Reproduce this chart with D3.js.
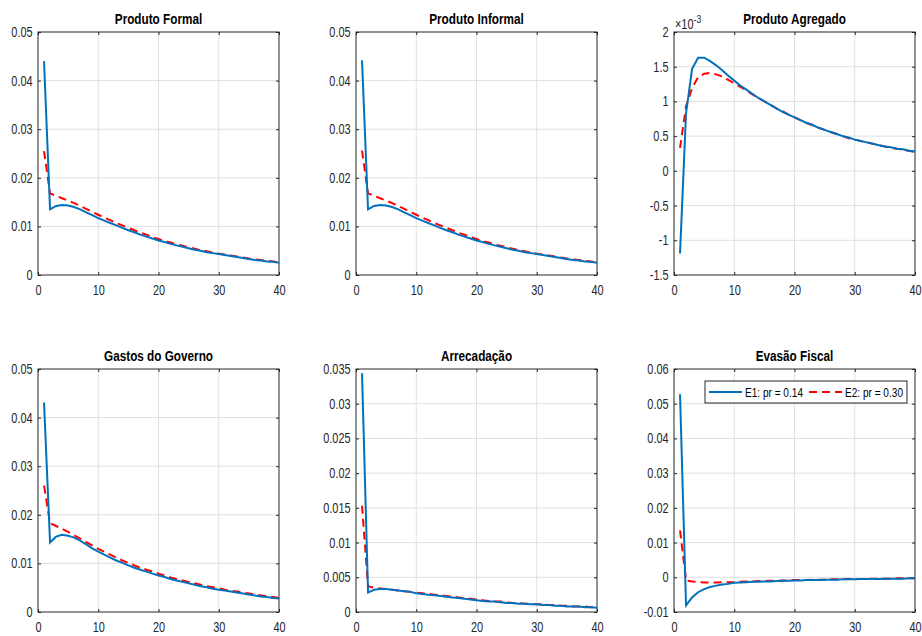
<!DOCTYPE html>
<html>
<head>
<meta charset="utf-8">
<script src="https://cdn.jsdelivr.net/npm/d3@7"></script>
<style>
  body { margin: 0; background: #fff; }
  svg { display: block; font-family: "Liberation Sans", Arial, sans-serif; }
  .tick text { fill: #262626; font-size: 14px; }
  .title { font-size: 14px; font-weight: bold; fill: #000; }
</style>
</head>
<body>
<div id="chart"></div>
<script>
var svgWidth = 922;
var svgHeight = 636;
// the reference font is narrower than Liberation Sans
var squeeze = 0.84;
var tickSqueeze = 0.78;

// periods 1..40
var periods = d3.range(1, 41);

// series (E1: pr = 0.14, E2: pr = 0.30)
var formalE1 = [0.0440,0.0135,0.0142,0.0144,0.0143,0.0140,0.0135,0.0129,0.0123,0.0117,0.0112,0.0107,0.0102,0.0097,0.0092,0.0088,0.0083,0.0079,0.0075,0.0071,0.0068,0.0064,0.0061,0.0058,0.0055,0.0052,0.0050,0.0047,0.0045,0.0043,0.0041,0.0039,0.0037,0.0035,0.0033,0.0031,0.0030,0.0028,0.0027,0.0025];
var formalE2 = [0.0255,0.0168,0.0163,0.0158,0.0153,0.0148,0.0142,0.0136,0.0130,0.0124,0.0118,0.0113,0.0107,0.0102,0.0097,0.0092,0.0087,0.0083,0.0078,0.0074,0.0070,0.0067,0.0063,0.0060,0.0057,0.0054,0.0051,0.0049,0.0046,0.0044,0.0042,0.0040,0.0038,0.0036,0.0034,0.0032,0.0031,0.0029,0.0028,0.0026];

var informalE1 = [0.0442,0.0135,0.0142,0.0144,0.0143,0.0140,0.0135,0.0129,0.0123,0.0117,0.0112,0.0107,0.0102,0.0097,0.0092,0.0088,0.0083,0.0079,0.0075,0.0071,0.0068,0.0064,0.0061,0.0058,0.0055,0.0052,0.0050,0.0047,0.0045,0.0043,0.0041,0.0039,0.0037,0.0035,0.0033,0.0031,0.0030,0.0028,0.0027,0.0025];
var informalE2 = [0.0256,0.0168,0.0163,0.0158,0.0153,0.0148,0.0142,0.0136,0.0130,0.0124,0.0118,0.0113,0.0107,0.0102,0.0097,0.0092,0.0087,0.0083,0.0078,0.0074,0.0070,0.0067,0.0063,0.0060,0.0057,0.0054,0.0051,0.0049,0.0046,0.0044,0.0042,0.0040,0.0038,0.0036,0.0034,0.0032,0.0031,0.0029,0.0028,0.0026];

// in units of 10^-3
var agregadoE1 = [-1.19,0.83,1.47,1.63,1.63,1.58,1.52,1.45,1.37,1.30,1.23,1.17,1.11,1.05,1.00,0.95,0.90,0.85,0.81,0.77,0.73,0.69,0.66,0.62,0.59,0.56,0.53,0.50,0.48,0.45,0.43,0.41,0.39,0.37,0.35,0.34,0.32,0.31,0.29,0.28];
var agregadoE2 = [0.33,0.93,1.19,1.35,1.40,1.41,1.39,1.36,1.31,1.26,1.21,1.16,1.10,1.05,1.00,0.95,0.90,0.86,0.81,0.77,0.73,0.69,0.66,0.62,0.59,0.56,0.53,0.50,0.47,0.45,0.43,0.41,0.39,0.37,0.35,0.33,0.32,0.30,0.29,0.27];

var gastosE1 = [0.0431,0.0143,0.0155,0.0159,0.0157,0.0153,0.0147,0.0139,0.0131,0.0124,0.0118,0.0112,0.0106,0.0101,0.0096,0.0091,0.0087,0.0083,0.0079,0.0075,0.0072,0.0068,0.0065,0.0062,0.0059,0.0056,0.0053,0.0051,0.0048,0.0046,0.0044,0.0042,0.0040,0.0038,0.0036,0.0034,0.0032,0.0031,0.0029,0.0028];
var gastosE2 = [0.0260,0.0183,0.0177,0.0171,0.0165,0.0158,0.0151,0.0144,0.0137,0.0130,0.0124,0.0118,0.0112,0.0106,0.0101,0.0096,0.0091,0.0087,0.0083,0.0079,0.0075,0.0071,0.0068,0.0065,0.0062,0.0059,0.0056,0.0053,0.0051,0.0049,0.0046,0.0044,0.0042,0.0040,0.0038,0.0036,0.0034,0.0032,0.0031,0.0029];

var arrecE1 = [0.0344,0.0028,0.0032,0.0033,0.0033,0.0032,0.0031,0.0030,0.0029,0.0027,0.0026,0.0025,0.0024,0.0023,0.0022,0.0021,0.0020,0.0019,0.0018,0.0017,0.0016,0.0015,0.0015,0.0014,0.0013,0.0013,0.0012,0.0012,0.0011,0.0011,0.0010,0.0010,0.0009,0.0009,0.0008,0.0008,0.0008,0.0007,0.0007,0.0006];
var arrecE2 = [0.0153,0.0037,0.0035,0.0034,0.0033,0.0032,0.0031,0.0030,0.0029,0.0028,0.0027,0.0026,0.0025,0.0024,0.0023,0.0022,0.0021,0.0020,0.0019,0.0018,0.0017,0.0016,0.0015,0.0015,0.0014,0.0013,0.0013,0.0012,0.0012,0.0011,0.0011,0.0010,0.0010,0.0009,0.0009,0.0008,0.0008,0.0008,0.0007,0.0007];

var evasaoE1 = [0.0527,-0.0081,-0.0058,-0.0043,-0.0034,-0.0028,-0.0024,-0.0021,-0.0019,-0.0016,-0.0015,-0.0014,-0.0013,-0.0013,-0.0012,-0.0012,-0.0011,-0.0010,-0.0010,-0.0009,-0.0009,-0.0008,-0.0008,-0.0008,-0.0007,-0.0007,-0.0007,-0.0006,-0.0006,-0.0006,-0.0005,-0.0005,-0.0005,-0.0005,-0.0004,-0.0004,-0.0004,-0.0004,-0.0003,-0.0003];
var evasaoE2 = [0.0135,-0.0009,-0.0012,-0.0014,-0.0015,-0.0015,-0.0015,-0.0014,-0.0014,-0.0014,-0.0013,-0.0012,-0.0012,-0.0011,-0.0011,-0.0010,-0.0010,-0.0009,-0.0009,-0.0008,-0.0008,-0.0008,-0.0007,-0.0007,-0.0007,-0.0006,-0.0006,-0.0006,-0.0005,-0.0005,-0.0005,-0.0005,-0.0004,-0.0004,-0.0004,-0.0004,-0.0003,-0.0003,-0.0003,-0.0003];

// tick labels
var xTicks = [0, 10, 20, 30, 40];
var ticks05 = ["0", "0.01", "0.02", "0.03", "0.04", "0.05"];
var ticksAgregado = ["-1.5", "-1", "-0.5", "0", "0.5", "1", "1.5", "2"];
var ticksArrec = ["0", "0.005", "0.01", "0.015", "0.02", "0.025", "0.03", "0.035"];
var ticksEvasao = ["-0.01", "0", "0.01", "0.02", "0.03", "0.04", "0.05", "0.06"];

var titles = ["Produto Formal", "Produto Informal", "Produto Agregado", "Gastos do Governo", "Arrecadação", "Evasão Fiscal"];
var legendLabels = ["E1: pr = 0.14", "E2: pr = 0.30"];

var panels = [
  { e1: formalE1, e2: formalE2, ticks: ticks05 },
  { e1: informalE1, e2: informalE2, ticks: ticks05 },
  { e1: agregadoE1, e2: agregadoE2, ticks: ticksAgregado, exponent: true },
  { e1: gastosE1, e2: gastosE2, ticks: ticks05 },
  { e1: arrecE1, e2: arrecE2, ticks: ticksArrec },
  { e1: evasaoE1, e2: evasaoE2, ticks: ticksEvasao, legend: true }
];

var colLeft = [38, 356, 674];
var rowTop = [32, 369];
var width = 241;
var height = 243;

var svg = d3.select("#chart")
  .append("svg")
  .attr("width", svgWidth)
  .attr("height", svgHeight);

panels.forEach((p, i) => {
  var g = svg.append("g")
    .attr("transform", `translate(${colLeft[i % 3]}, ${rowTop[Math.floor(i / 3)]})`);

  var yVals = p.ticks.map(t => +t);

  var x = d3.scaleLinear().domain([0, 40]).range([0, width]);
  var y = d3.scaleLinear().domain(d3.extent(yVals)).range([height, 0]);

  // grid
  g.append("g").selectAll("line")
    .data(xTicks.slice(1, -1))
    .enter().append("line")
    .attr("x1", d => x(d)).attr("x2", d => x(d))
    .attr("y1", 0).attr("y2", height)
    .attr("stroke", "#e0e0e0");

  g.append("g").selectAll("line")
    .data(yVals.slice(1, -1))
    .enter().append("line")
    .attr("x1", 0).attr("x2", width)
    .attr("y1", d => y(d)).attr("y2", d => y(d))
    .attr("stroke", "#e0e0e0");

  // axes (ticks inward, MATLAB style)
  var xAxis = d3.axisBottom(x).tickValues(xTicks).tickSize(-3).tickPadding(10).tickFormat(d3.format("d"));
  var yAxis = d3.axisLeft(y).tickValues(yVals).tickSize(-3).tickPadding(7).tickFormat((d, k) => p.ticks[k]);

  g.append("g").attr("transform", `translate(0, ${height})`).call(xAxis);
  g.append("g").call(yAxis);
  g.append("g").call(d3.axisTop(x).tickValues(xTicks).tickSize(-3).tickFormat(""));
  g.append("g").attr("transform", `translate(${width}, 0)`)
    .call(d3.axisRight(y).tickValues(yVals).tickSize(-3).tickFormat(""));

  g.selectAll(".domain").remove();
  g.selectAll(".tick line").attr("stroke", "#262626");
  g.selectAll(".tick text").attr("transform", `scale(${tickSqueeze}, 1)`);

  g.append("rect")
    .attr("width", width).attr("height", height)
    .attr("fill", "none").attr("stroke", "#262626");

  // lines
  var line = d3.line()
    .x((d, k) => x(periods[k]))
    .y(d => y(d));

  g.append("path")
    .datum(p.e2)
    .attr("d", line)
    .attr("fill", "none")
    .attr("stroke", "#ff0000")
    .attr("stroke-width", 2)
    .attr("stroke-dasharray", "8,5");

  g.append("path")
    .datum(p.e1)
    .attr("d", line)
    .attr("fill", "none")
    .attr("stroke", "#0072bd")
    .attr("stroke-width", 2);

  // title
  g.append("text")
    .attr("class", "title")
    .attr("transform", `translate(${width / 2}, -8) scale(${squeeze}, 1)`)
    .attr("text-anchor", "middle")
    .text(titles[i]);

  if (p.exponent) {
    var ex = g.append("text")
      .attr("transform", `translate(1, -3) scale(${tickSqueeze}, 1)`)
      .attr("fill", "#262626")
      .style("font-size", "14px");
    ex.append("tspan").text("\u00d710");
    ex.append("tspan").attr("dy", -6).style("font-size", "11px").text("-3");
  }

  if (p.legend) {
    var lg = g.append("g").attr("transform", "translate(31, 12)");
    lg.append("rect")
      .attr("width", 202).attr("height", 22)
      .attr("fill", "#fff").attr("stroke", "#262626");
    lg.append("line")
      .attr("x1", 4).attr("x2", 37).attr("y1", 11).attr("y2", 11)
      .attr("stroke", "#0072bd").attr("stroke-width", 2);
    lg.append("text")
      .attr("transform", `translate(40, 15.5) scale(${squeeze}, 1)`)
      .attr("fill", "#000").style("font-size", "12px").text(legendLabels[0]);
    lg.append("line")
      .attr("x1", 104).attr("x2", 137).attr("y1", 11).attr("y2", 11)
      .attr("stroke", "#ff0000").attr("stroke-width", 2).attr("stroke-dasharray", "8,5");
    lg.append("text")
      .attr("transform", `translate(140, 15.5) scale(${squeeze}, 1)`)
      .attr("fill", "#000").style("font-size", "12px").text(legendLabels[1]);
  }
});
</script>
</body>
</html>
